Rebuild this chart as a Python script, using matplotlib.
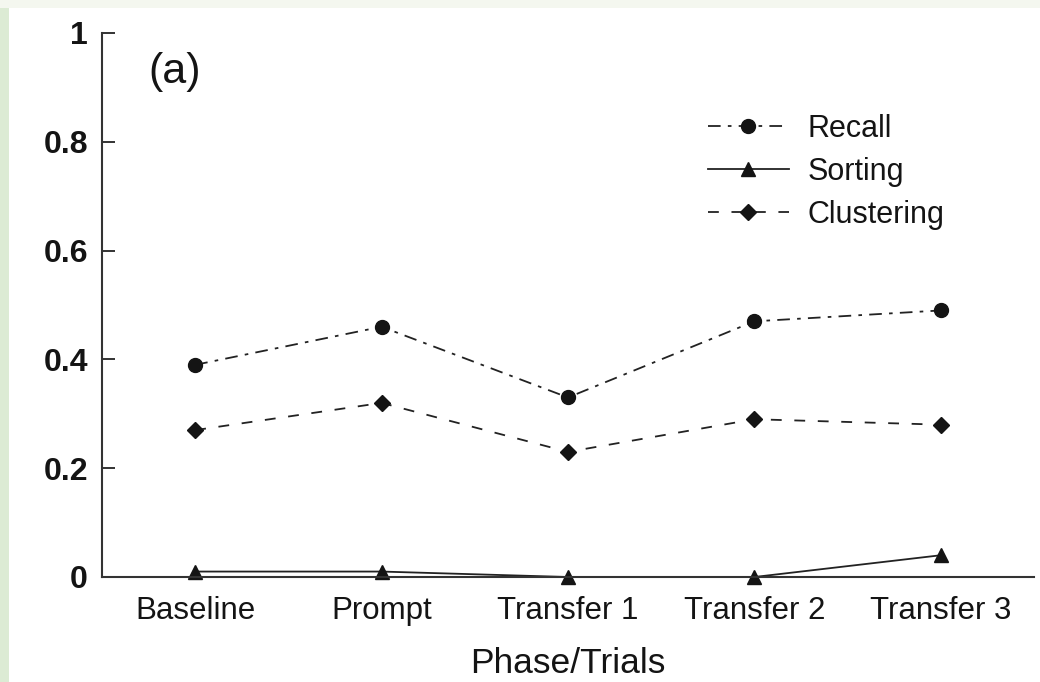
import matplotlib
matplotlib.use("Agg")
import matplotlib.pyplot as plt
from matplotlib.patches import Rectangle

plt.rcParams["font.family"] = ["Liberation Sans", "DejaVu Sans"]

phases = ["Baseline", "Prompt", "Transfer 1", "Transfer 2", "Transfer 3"]
recall = [0.39, 0.46, 0.33, 0.47, 0.49]
sorting = [0.01, 0.01, 0.0, 0.0, 0.04]
clustering = [0.27, 0.32, 0.23, 0.29, 0.28]
y_ticks = [0, 0.2, 0.4, 0.6, 0.8, 1]
y_tick_labels = ["0", "0.2", "0.4", "0.6", "0.8", "1"]

ink = "#141414"
line_c = "#222222"

fig = plt.figure(figsize=(10.4, 6.82), dpi=100, facecolor="white")

# soft page border on the left and top
fig.patches.append(Rectangle((0, 0), 9 / 1040, 1, transform=fig.transFigure,
                             facecolor="#dcebd4", edgecolor="none", zorder=0))
fig.patches.append(Rectangle((0, 1 - 8 / 682), 1, 8 / 682, transform=fig.transFigure,
                             facecolor="#f4f7ef", edgecolor="none", zorder=0))

ax = fig.add_axes([102 / 1040, 1 - 577 / 682, (1034 - 102) / 1040, (577 - 33) / 682])
ax.set_facecolor("none")

x = list(range(1, len(phases) + 1))

ax.plot(x, recall, color=line_c, lw=1.3, linestyle=(0, (7, 4, 2, 4)),
        marker="o", markersize=10, markerfacecolor=ink, markeredgecolor=ink,
        label="Recall", clip_on=False)
ax.plot(x, sorting, color=line_c, lw=1.3, linestyle="-",
        marker="^", markersize=10, markerfacecolor=ink, markeredgecolor=ink,
        label="Sorting", clip_on=False)
ax.plot(x, clustering, color=line_c, lw=1.3, linestyle=(0, (6, 7)),
        marker="D", markersize=8.5, markerfacecolor=ink, markeredgecolor=ink,
        label="Clustering", clip_on=False)

ax.set_xlim(0.5, 5.5)
ax.set_ylim(0, 1)

ax.set_xticks(x)
ax.set_xticklabels(phases, fontsize=22.5, color=ink)
ax.set_yticks(y_ticks)
ax.set_yticklabels(y_tick_labels, fontsize=23, fontweight="bold", color=ink)

ax.tick_params(axis="x", length=0, pad=14)
ax.tick_params(axis="y", direction="in", length=9, width=1.4, color="#333333", pad=10)

for side in ("top", "right"):
    ax.spines[side].set_visible(False)
for side in ("left", "bottom"):
    ax.spines[side].set_linewidth(1.5)
    ax.spines[side].set_color("#333333")

ax.set_xlabel("Phase/Trials", fontsize=25.5, color=ink, labelpad=15)

ax.text(148 / 1040, 1 - 72 / 682, "(a)", transform=fig.transFigure,
        fontsize=31, color=ink, ha="left", va="center")

leg = ax.legend(loc="upper left", bbox_to_anchor=(708 / 1040, 1 - 114 / 682),
                bbox_transform=fig.transFigure, frameon=False, fontsize=22,
                handlelength=2.65, handletextpad=0.6, labelspacing=0.42,
                borderpad=0, borderaxespad=0, numpoints=1)
for t in leg.get_texts():
    t.set_color(ink)

fig.savefig("out.png", dpi=100, facecolor=fig.get_facecolor())
